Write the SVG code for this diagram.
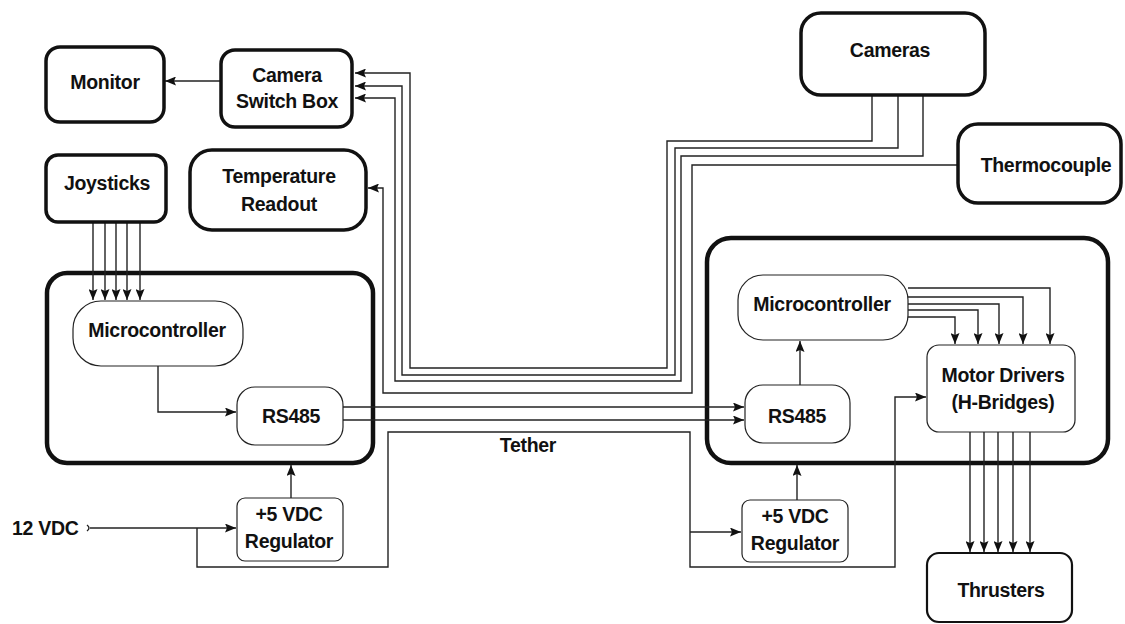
<svg xmlns="http://www.w3.org/2000/svg" width="1125" height="624" viewBox="0 0 1125 624">
<style>
text{font-family:"Liberation Sans",Arial,sans-serif;font-weight:bold;font-size:19.5px;fill:#111;text-anchor:middle;letter-spacing:-0.3px}
.thick{fill:#fff;stroke:#111;stroke-width:3.5}
.cont{fill:none;stroke:#111;stroke-width:4.5}
.thin{fill:#fff;stroke:#222;stroke-width:1.2}
.mid{fill:#fff;stroke:#111;stroke-width:2.2}
.w{fill:none;stroke:#222;stroke-width:1.4}
.a{marker-end:url(#ah)}
</style>
<defs>
<marker id="ah" viewBox="0 0 11 9" refX="11" refY="4.5" markerWidth="11" markerHeight="9" orient="auto" markerUnits="userSpaceOnUse"><path d="M0,0 L11,4.5 L0,9 L2,4.5 z" fill="#111"/></marker>
</defs>
<rect width="1125" height="624" fill="#fff"/>
<g id="containers">
<g id="left-unit"><rect class="cont" x="47" y="273" width="326" height="190" rx="20"/></g>
<g id="right-unit"><rect class="cont" x="707" y="238" width="401" height="225" rx="24"/></g>
</g>
<g id="connectors">
<path class="w a" d="M221,81 H165"/>
<path class="w a" d="M872,95 V141 H667 V368 H410 V73 H355"/>
<path class="w a" d="M898,95 V148 H675 V375 H402 V86 H355"/>
<path class="w a" d="M923,95 V156 H681 V381 H395 V98 H355"/>
<path class="w a" d="M958,165 H692 V393 H383 V188 H368"/>
<path class="w a" d="M93,222 V300"/>
<path class="w a" d="M105,222 V300"/>
<path class="w a" d="M116,222 V300"/>
<path class="w a" d="M127,222 V300"/>
<path class="w a" d="M140,222 V300"/>
<path class="w a" d="M158,366 V412 H236"/>
<path class="w a" d="M343,407 H744"/>
<path class="w a" d="M343,420 H744"/>
<path class="w a" d="M800,385 V341"/>
<path class="w a" d="M908,288 H1050 V344"/>
<path class="w a" d="M908,297 H1023 V344"/>
<path class="w a" d="M908,304 H999 V344"/>
<path class="w a" d="M908,310 H978 V344"/>
<path class="w a" d="M908,317 H955 V344"/>
<path class="w a" d="M970,432 V552"/>
<path class="w a" d="M984,432 V552"/>
<path class="w a" d="M998,432 V552"/>
<path class="w a" d="M1013,432 V552"/>
<path class="w a" d="M1030,432 V552"/>
<path class="w a" d="M291,498 V465"/>
<path class="w a" d="M797,500 V465"/>
<path class="w a" d="M90,528 H236"/>
<path class="w" d="M87,525 Q91,528 87,531"/>
<path class="w a" d="M197,528 V567 H388 V432 H690 V567 H895 V397 H926"/>
<path class="w a" d="M690,532 H741"/>
</g>
<g id="monitor"><rect class="thick" x="46" y="47" width="118" height="75" rx="14"/><text x="105" y="89">Monitor</text></g>
<g id="camera-switch-box"><rect class="thick" x="221" y="50" width="131" height="77" rx="14"/><text x="287" y="82">Camera</text><text x="287" y="108">Switch Box</text></g>
<g id="joysticks"><rect class="thick" x="46" y="155" width="120" height="67" rx="12"/><text x="107" y="190">Joysticks</text></g>
<g id="temperature-readout"><rect class="thick" x="190" y="150" width="176" height="80" rx="22"/><text x="279" y="183">Temperature</text><text x="279" y="211">Readout</text></g>
<g id="cameras"><rect class="thick" x="801" y="13" width="184" height="82" rx="20"/><text x="890" y="57">Cameras</text></g>
<g id="thermocouple"><rect class="thick" x="958" y="124" width="163" height="79" rx="20"/><text x="1046" y="172">Thermocouple</text></g>
<g id="left-microcontroller"><rect class="thin" x="73" y="301" width="170" height="65" rx="28"/><text x="157" y="337">Microcontroller</text></g>
<g id="left-rs485"><rect class="thin" x="237" y="387" width="106" height="58" rx="18"/><text x="291" y="423">RS485</text></g>
<g id="left-regulator"><rect class="thin" x="237" y="498" width="106" height="63" rx="8"/><text x="289" y="521">+5 VDC</text><text x="289" y="548">Regulator</text></g>
<g id="right-microcontroller"><rect class="thin" x="738" y="275" width="170" height="65" rx="25"/><text x="822" y="311">Microcontroller</text></g>
<g id="right-rs485"><rect class="thin" x="745" y="385" width="105" height="58" rx="18"/><text x="797" y="423">RS485</text></g>
<g id="motor-drivers"><rect class="thin" x="927" y="345" width="148" height="87" rx="12"/><text x="1003" y="382">Motor Drivers</text><text x="1003" y="409">(H-Bridges)</text></g>
<g id="right-regulator"><rect class="thin" x="742" y="500" width="106" height="62" rx="8"/><text x="795" y="523">+5 VDC</text><text x="795" y="550">Regulator</text></g>
<g id="thrusters"><rect class="mid" x="927" y="553" width="145" height="69" rx="12"/><text x="1001" y="597">Thrusters</text></g>
<g id="labels">
<text x="12" y="535" style="text-anchor:start">12 VDC</text>
<text x="528" y="452">Tether</text>
</g>
</svg>
